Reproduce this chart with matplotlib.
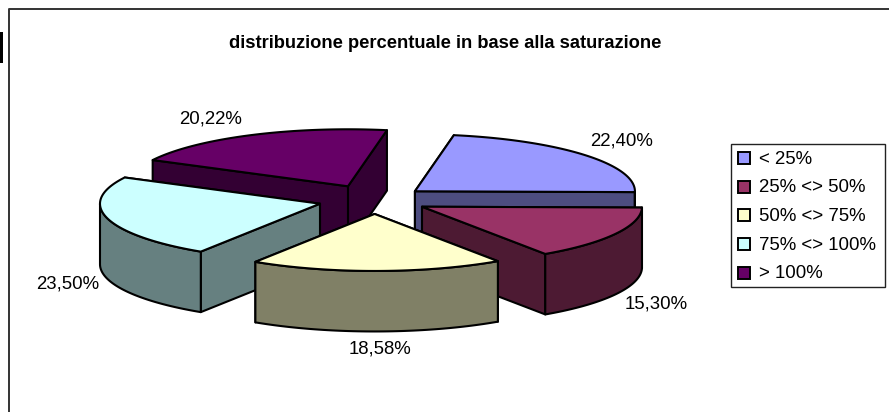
import numpy as np
import matplotlib
matplotlib.use("Agg")
import matplotlib.pyplot as plt
from matplotlib.patches import Polygon, Rectangle

plt.rcParams['font.family'] = ['Liberation Sans', 'DejaVu Sans']

# data
categories = ['< 25%', '25% <> 50%', '50% <> 75%', '75% <> 100%', '> 100%']
values = [22.40, 15.30, 18.58, 23.50, 20.22]
value_labels = ['22,40%', '15,30%', '18,58%', '23,50%', '20,22%']
top_colors = ['#9999FF', '#993366', '#FFFFCC', '#CCFFFF', '#660066']
side_colors = ['#4D4D80', '#4D1A33', '#808066', '#668080', '#330033']
title = 'distribuzione percentuale in base alla saturazione'

# pie geometry, in pixels of the picture
cx, cy = 374, 200
rx, ry = 220, 57
depth = 60.5
explode = [0.241, 0.248, 0.245, 0.254, 0.268]
first_angle = 10.2
draw_order = [4, 0, 3, 1, 2]
label_pos = [(622, 141), (656, 304), (380, 349), (67.5, 284), (211, 119)]

fig = plt.figure(figsize=(8.89, 4.12), dpi=100)
ax = fig.add_axes([0, 0, 1, 1])
ax.set_xlim(0, 889)
ax.set_ylim(412, 0)
ax.axis('off')

LW = 1.5


def rim(x0, y0, t):
    t = np.radians(t)
    return np.column_stack([x0 + rx * np.sin(t), y0 - ry * np.cos(t)])


def face(pts, color, z):
    ax.add_patch(Polygon(pts, closed=True, facecolor=color, edgecolor='black',
                         linewidth=LW, joinstyle='round', zorder=z))


# frame of the chart area, open on the right
ax.plot([889, 8.5, 8.5], [8.5, 8.5, 412], color='#333333', lw=1.4, zorder=1)
ax.add_patch(Rectangle((0, 32), 3, 31, facecolor='black', edgecolor='none'))

ax.text(445.5, 43, title, ha='center', va='center', fontsize=13.2, fontweight='bold')

# slices: angles come from the values, clockwise from the top
edges = first_angle + np.cumsum([0] + values) * 3.6
z = 2
for i in draw_order:
    a0, a1 = edges[i], edges[i + 1]
    mid = np.radians((a0 + a1) / 2)
    x0 = cx + explode[i] * rx * np.sin(mid)
    y0 = cy - explode[i] * ry * np.cos(mid)
    arc = rim(x0, y0, np.linspace(a0, a1, 80))
    down = np.array([0, depth])
    centre = np.array([[x0, y0]])

    # radial cut faces, the one further back first
    cuts = sorted([arc[0], arc[-1]], key=lambda p: p[1])
    for p in cuts:
        quad = np.vstack([centre, [p], [p + down], centre + down])
        face(quad, side_colors[i], z)
        z += 1

    # outer wall, only the part that faces the viewer
    lo, hi = max(a0, 90), min(a1, 270)
    if lo < hi:
        wall = rim(x0, y0, np.linspace(lo, hi, 60))
        face(np.vstack([wall, (wall + down)[::-1]]), side_colors[i], z)
        z += 1

    face(np.vstack([centre, arc]), top_colors[i], z)
    z += 1

for (x, y), s in zip(label_pos, value_labels):
    ax.text(x, y, s, ha='center', va='center', fontsize=13.4, zorder=50)

# legend
ax.add_patch(Rectangle((731, 144), 154, 143, facecolor='white', edgecolor='#222222',
                       linewidth=1.0, zorder=50))
for i, name in enumerate(categories):
    y = 158 + i * 28.7
    ax.add_patch(Rectangle((738, y - 6), 12, 12, facecolor=top_colors[i], edgecolor='black',
                           linewidth=1.4, zorder=51))
    ax.text(759, y + 1, name, ha='left', va='center', fontsize=13.4, zorder=51)

fig.savefig('out.png', dpi=100)
